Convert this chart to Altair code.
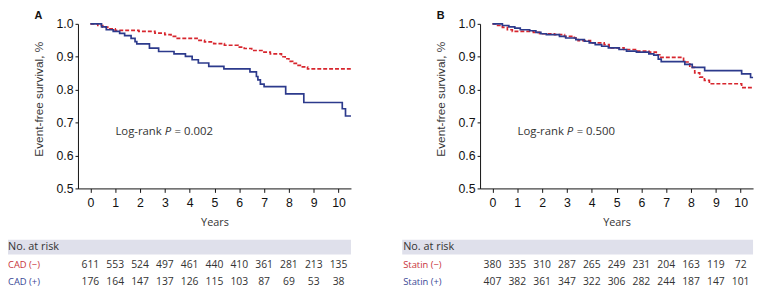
import altair as alt
import pandas as pd

# ---------------- data ----------------
years = [0, 1, 2, 3, 4, 5, 6, 7, 8, 9, 10]

# Panel A: CAD (-) red dashed, CAD (+) blue solid
a_neg_t = [0, 0.3, 0.5, 0.7, 1.0, 1.95, 2.6, 3.0, 3.25, 3.5, 4.3, 4.6, 4.97, 5.4, 5.95, 6.2, 6.5, 6.95, 7.25, 7.7, 7.85, 8.0, 8.15, 8.3, 8.5, 8.75, 10.5]
a_neg_s = [1.0, 0.995, 0.99, 0.985, 0.98, 0.977, 0.972, 0.967, 0.962, 0.956, 0.95, 0.945, 0.94, 0.935, 0.929, 0.925, 0.919, 0.914, 0.909, 0.9, 0.894, 0.886, 0.88, 0.874, 0.869, 0.863, 0.863]
a_pos_t = [0, 0.45, 0.64, 0.92, 1.18, 1.38, 1.64, 1.8, 1.87, 2.38, 2.75, 3.37, 3.83, 4.1, 4.35, 4.77, 5.38, 6.43, 6.69, 6.75, 6.85, 7.0, 7.87, 8.6, 10.15, 10.28, 10.5]
a_pos_s = [1.0, 0.991, 0.982, 0.977, 0.971, 0.964, 0.956, 0.946, 0.939, 0.926, 0.916, 0.909, 0.901, 0.891, 0.881, 0.871, 0.863, 0.854, 0.84, 0.83, 0.817, 0.809, 0.787, 0.761, 0.742, 0.72, 0.72]

# Panel B: Statin (-) red dashed, Statin (+) blue solid
b_neg_t = [0, 0.15, 0.4, 0.6, 0.8, 1.65, 1.9, 2.5, 2.9, 3.3, 3.45, 3.95, 4.5, 4.7, 5.3, 5.8, 6.3, 6.6, 6.78, 7.7, 7.95, 8.15, 8.35, 8.54, 8.74, 10.04, 10.5]
b_neg_s = [1.0, 0.995, 0.989, 0.982, 0.977, 0.974, 0.97, 0.967, 0.962, 0.957, 0.949, 0.942, 0.937, 0.927, 0.922, 0.917, 0.914, 0.906, 0.898, 0.884, 0.868, 0.851, 0.838, 0.828, 0.818, 0.806, 0.806]
b_pos_t = [0, 0.4, 0.66, 0.9, 1.12, 1.5, 1.75, 1.95, 2.17, 2.7, 2.95, 3.36, 3.7, 3.9, 4.14, 4.4, 4.67, 5.1, 5.4, 5.8, 6.3, 6.5, 6.68, 6.8, 7.75, 8.05, 8.55, 10.04, 10.4, 10.5]
b_pos_s = [1.0, 0.995, 0.991, 0.987, 0.982, 0.979, 0.974, 0.97, 0.967, 0.962, 0.957, 0.952, 0.947, 0.942, 0.937, 0.932, 0.927, 0.922, 0.917, 0.914, 0.909, 0.905, 0.893, 0.885, 0.877, 0.868, 0.858, 0.848, 0.837, 0.837]

cad_neg_risk = [611, 553, 524, 497, 461, 440, 410, 361, 281, 213, 135]
cad_pos_risk = [176, 164, 147, 137, 126, 115, 103, 87, 69, 53, 38]
statin_neg_risk = [380, 335, 310, 287, 265, 249, 231, 204, 163, 119, 72]
statin_pos_risk = [407, 382, 361, 347, 322, 306, 282, 244, 187, 147, 101]

y_ticks = [0.5, 0.6, 0.7, 0.8, 0.9, 1.0]

RED = "#d7262e"
BLUE = "#2c3a8c"
RED_TXT = "#c8343a"
BLUE_TXT = "#3a4796"
BAND = "#dfe0eb"
TXT = "#333333"
AXF = "Liberation Sans"
TF = "Open Sans"

W = 277
H = 167
XDOM = [-0.5, 10.5]


def text_layer(s, x, y, size=11, color=TXT, font=TF, weight="normal", style="normal",
               align="left", baseline="middle"):
    return alt.Chart(pd.DataFrame({"s": [s]})).mark_text(
        font=font, fontSize=size, color=color, fontWeight=weight, fontStyle=style,
        align=align, baseline=baseline
    ).encode(x=alt.value(x), y=alt.value(y), text="s:N")


def panel(letter, neg_t, neg_s, pos_t, pos_s, neg_lab, pos_lab, neg_risk, pos_risk,
          pval, band_x0, lab_x):
    xs = alt.Scale(domain=XDOM, nice=False, zero=False)
    ys = alt.Scale(domain=[0.5, 1.0], nice=False, zero=False)
    neg = pd.DataFrame({"t": neg_t, "s": neg_s})
    pos = pd.DataFrame({"t": pos_t, "s": pos_s})
    xaxis = alt.Axis(
        values=years, title="Years", grid=False, tickSize=4, labelPadding=4,
        labelOverlap=False, labelFlush=False, labelBound=False,
        labelFont=AXF, labelFontSize=12.5, labelColor="#111", domainColor="#111",
        tickColor="#111", titleFont=TF, titleFontSize=11, titleFontWeight="normal",
        titleColor=TXT, titleY=35, titleBaseline="middle")
    yaxis = alt.Axis(
        values=y_ticks, format=".1f", title="Event-free survival, %", grid=False,
        labelOverlap=False, labelFlush=False, labelBound=False,
        tickSize=3, labelPadding=2, labelFont=AXF, labelFontSize=12.5, labelColor="#111",
        domainColor="#111", tickColor="#111", titleFont=AXF, titleFontSize=12,
        titleFontWeight="normal", titleColor=TXT, titleX=-40, titleY=76,
        titleAngle=270, titleAlign="center", titleBaseline="middle")
    ex = alt.X("t:Q", scale=xs, axis=xaxis)
    ey = alt.Y("s:Q", scale=ys, axis=yaxis)

    red_line = alt.Chart(neg).mark_line(interpolate="step-after", color=RED,
                                        strokeWidth=1.7, strokeDash=[4, 2]).encode(x=ex, y=ey)
    blue_line = alt.Chart(pos).mark_line(interpolate="step-after", color=BLUE,
                                         strokeWidth=1.7).encode(x=ex, y=ey)

    band = alt.Chart(pd.DataFrame({"a": [0]})).mark_rect(color=BAND).encode(
        x=alt.value(band_x0), x2=alt.value(W), y=alt.value(219), y2=alt.value(234))

    risk1 = alt.Chart(pd.DataFrame({"t": years, "n": neg_risk})).mark_text(
        font=TF, fontSize=10.5, color=TXT, align="center", baseline="middle"
    ).encode(x=ex, y=alt.value(245), text="n:N")
    risk2 = alt.Chart(pd.DataFrame({"t": years, "n": pos_risk})).mark_text(
        font=TF, fontSize=10.5, color=TXT, align="center", baseline="middle"
    ).encode(x=ex, y=alt.value(262), text="n:N")

    layers = [
        red_line,
        blue_line,
        band,
        risk1,
        risk2,
        text_layer("No. at risk", lab_x, 226.5, size=11, color=TXT),
        text_layer(neg_lab, lab_x, 245, size=9.5, color=RED_TXT),
        text_layer(pos_lab, lab_x, 262, size=9.5, color=BLUE_TXT),
        text_layer(letter, -44, -14, size=11, color="#111", font=AXF, weight="bold", baseline="top"),
        text_layer("Log-rank", 38, 110, size=11.5),
        text_layer("P", 88, 110, size=11.5, style="italic"),
        text_layer("= " + pval, 98, 110, size=11.5),
    ]
    return alt.layer(*layers).properties(width=W, height=H)


pa = panel("A", a_neg_t, a_neg_s, a_pos_t, a_pos_s, "CAD (−)", "CAD (+)",
           cad_neg_risk, cad_pos_risk, "0.002", -71, -71)
pb = panel("B", b_neg_t, b_neg_s, b_pos_t, b_pos_s, "Statin (−)", "Statin (+)",
           statin_neg_risk, statin_pos_risk, "0.500", -79, -78)

chart = alt.hconcat(pa, pb, spacing=131, bounds="flush").properties(
    padding=0
).configure_view(stroke=None).configure_axis(
    domainWidth=1, tickWidth=1, labelOverlap=False
)

chart.save("out.html", embed_options={"renderer": "svg", "actions": False})
